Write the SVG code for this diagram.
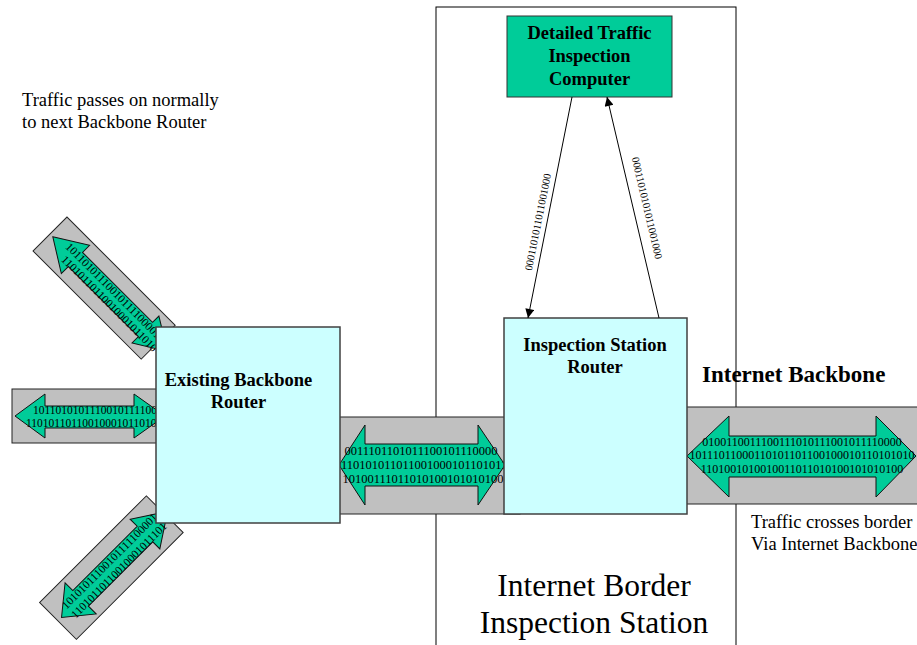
<svg xmlns="http://www.w3.org/2000/svg" width="917" height="645" viewBox="0 0 917 645">
<style>
text{font-family:"Liberation Serif","Times New Roman",serif;fill:#000}
.b{font-weight:bold;font-size:18.5px}
.r{font-size:18.5px}
.bits{font-size:11.5px}
.lbl{font-size:10.5px}
.bitsL{font-size:12.5px}
.bitsR{font-size:12px}
.band{fill:#C0C0C0;stroke:#222;stroke-width:1}
.arr{fill:#00CC99;stroke:#111;stroke-width:1}
.router{fill:#CCFFFF;stroke:#404040;stroke-width:1.5}
.conn{stroke:#000;stroke-width:1;fill:none}
</style>
<defs>
<marker id="ah" viewBox="0 0 10 10" refX="10" refY="5" markerWidth="11" markerHeight="9" orient="auto" markerUnits="userSpaceOnUse"><path d="M0,0 L10,5 L0,10 z" fill="#000"/></marker>
</defs>

<g id="station">
<rect x="436" y="7" width="300" height="660" fill="#fff" stroke="#000" stroke-width="1"/>
<text x="594" y="596" font-size="31.5" text-anchor="middle">Internet Border</text>
<text x="594" y="633" font-size="31.5" text-anchor="middle">Inspection Station</text>
</g>

<g id="band-upper-left" transform="translate(50,234) rotate(45)">
<rect class="band" x="0" y="-24" width="153" height="48"/>
<polygon class="arr" points="4,0 36,-20 36,-10 135,-10 135,-19 166,0 135,19 135,10 36,10 36,20"/>
<text class="bits" x="20" y="-1">10110101110010111100001</text>
<text class="bits" x="26" y="11">11010110110010001011010</text>
</g>

<g id="band-left">
<rect class="band" x="12" y="389" width="160" height="54"/>
<polygon class="arr" points="15,416 45,394 45,406 134,406 134,394 165,416 134,438 134,428 45,428 45,438"/>
<text class="bits" x="33" y="414">1011010101110010111100000</text>
<text class="bits" x="26" y="427">11010110110010001011010</text>
</g>

<g id="band-lower-left" transform="translate(58,621) rotate(-45)">
<rect class="band" x="0" y="-26" width="151" height="52"/>
<polygon class="arr" points="5,0 32,-22 32,-11 123,-11 123,-21 155,0 123,21 123,11 32,11 32,22"/>
<text class="bits" x="14" y="-2">10101011100101111100001</text>
<text class="bits" x="14" y="11">11010110110010001011101</text>
</g>

<g id="band-middle">
<rect class="band" x="320" y="417" width="200" height="97"/>
<polygon class="arr" points="339,465 365,425 365,444 478,444 478,425 505,465 478,505 478,486 365,486 365,505"/>
<text class="bitsL" x="421" y="455" text-anchor="middle">0011101101011100101110000</text>
<text class="bitsL" x="421" y="469" text-anchor="middle">101101010110110010001011010110</text>
<text class="bitsL" x="423" y="483" text-anchor="middle">10100111011010100101010100</text>
</g>

<g id="band-right">
<rect class="band" x="680" y="407" width="245" height="97"/>
<polygon class="arr" points="687,456 729,416 729,436 876,436 876,416 916,456 876,497 876,477 729,477 729,497"/>
<text class="bitsR" x="802" y="446" text-anchor="middle">0100110011100111010111001011110000</text>
<text class="bitsR" x="802" y="459" text-anchor="middle">10111011000110101101100100010110101010</text>
<text class="bitsR" x="802" y="473" text-anchor="middle">1101001010010011011010100101010100</text>
</g>

<g id="existing-router">
<rect class="router" x="156" y="327" width="184" height="196"/>
<text class="b" x="238.5" y="386" text-anchor="middle">Existing Backbone</text>
<text class="b" x="238.5" y="408" text-anchor="middle">Router</text>
</g>

<g id="inspection-router">
<rect class="router" x="504" y="318" width="183" height="196"/>
<text class="b" x="595" y="351" text-anchor="middle">Inspection Station</text>
<text class="b" x="595" y="373" text-anchor="middle">Router</text>
</g>

<g id="inspection-computer">
<rect x="507" y="16" width="165" height="81" fill="#00CC99" stroke="#333" stroke-width="1"/>
<text class="b" x="589.5" y="39" text-anchor="middle">Detailed Traffic</text>
<text class="b" x="589.5" y="62" text-anchor="middle">Inspection</text>
<text class="b" x="589.5" y="85" text-anchor="middle">Computer</text>
</g>

<g id="connectors">
<line class="conn" x1="572" y1="97" x2="528" y2="318" marker-end="url(#ah)"/>
<line class="conn" x1="659" y1="318" x2="607" y2="97" marker-end="url(#ah)"/>
<text class="lbl" x="541.4" y="222.7" text-anchor="middle" transform="rotate(-78.7 541.4 222.7)">0001101011011001000</text>
<text class="lbl" x="643.6" y="208.8" text-anchor="middle" transform="rotate(76.8 643.6 208.8)">00011010101011001000</text>
</g>

<g id="labels">
<text class="r" x="22" y="106">Traffic passes on normally</text>
<text class="r" x="22" y="128">to next Backbone Router</text>
<text x="702" y="382" font-size="23" font-weight="bold">Internet Backbone</text>
<text class="r" x="751" y="528">Traffic crosses border</text>
<text class="r" x="751" y="550">Via Internet Backbone</text>
</g>
</svg>
